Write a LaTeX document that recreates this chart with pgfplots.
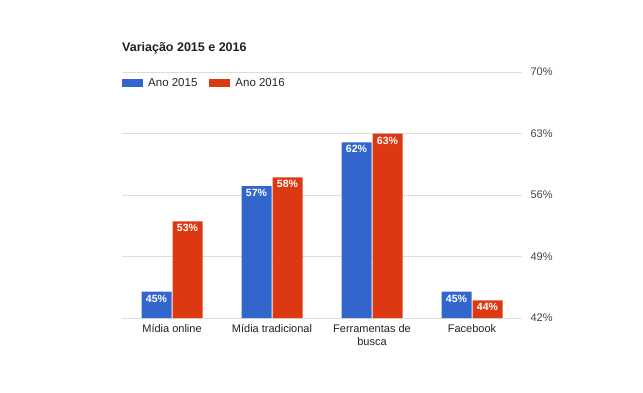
\documentclass[border=0pt]{standalone}
\usepackage{pgfplots}
\pgfplotsset{compat=1.18}
\usepackage{fontspec}
\setmainfont{Liberation Sans}
\definecolor{c15}{HTML}{3366CC}
\definecolor{c16}{HTML}{DC3912}
\definecolor{gridc}{HTML}{DDDDDD}
\definecolor{tickc}{HTML}{444444}
\begin{document}
\begin{tikzpicture}
\begin{axis}[
  at={(0,0)}, anchor=south west,
  scale only axis, width=400pt, height=246pt,
  ybar=1pt, bar width=30pt,
  xmin=-0.5, xmax=3.5, ymin=42, ymax=70,
  xtick={0,1,2,3},
  xticklabels={M\'idia online, M\'idia tradicional, Ferramentas de\\busca, Facebook},
  xticklabel style={align=center, font=\fontsize{11}{13}\selectfont, text=black!87, yshift=-3pt},
  ytick={42,49,56,63,70},
  yticklabel pos=right,
  yticklabel={\pgfmathprintnumber{\tick}\%},
  yticklabel style={font=\fontsize{11}{13}\selectfont, text=tickc, xshift=5pt},
  /pgf/number format/assume math mode=true,
  axis line style={draw=none},
  major tick length=0pt,
  ymajorgrids, grid style={gridc, line width=0.9pt},
  clip=true,
  nodes near coords={\pgfmathprintnumber{\pgfplotspointmeta}\%},
  nodes near coords style={anchor=north, font=\bfseries\fontsize{10.5}{12}\selectfont, text=white, inner sep=2pt, yshift=-1pt},
  legend columns=2,
  legend style={at={(0,0.955)}, anchor=west, draw=none, fill=none, inner sep=0pt,
    font=\fontsize{11.5}{13}\selectfont, text=black!85,
    /tikz/every odd column/.append style={column sep=3pt},
    /tikz/every even column/.append style={column sep=10pt}},
]
\addplot[fill=c15, draw=none, legend image code/.code={\fill[c15] (0pt,-4pt) rectangle (21pt,4pt);}]
  coordinates {(0,45) (1,57) (2,62) (3,45)};
\addlegendentry{Ano 2015}
\addplot[fill=c16, draw=none, legend image code/.code={\fill[c16] (0pt,-4pt) rectangle (21pt,4pt);}]
  coordinates {(0,53) (1,58) (2,63) (3,44)};
\addlegendentry{Ano 2016}
\end{axis}
\node[anchor=base west, inner sep=0pt, font=\bfseries\fontsize{12.5}{14}\selectfont, text=black!87] at (0pt,267pt) {Varia\c{c}\~ao 2015 e 2016};
\path[use as bounding box] (-122pt,-74pt) rectangle (521pt,318pt);
\end{tikzpicture}
\end{document}
